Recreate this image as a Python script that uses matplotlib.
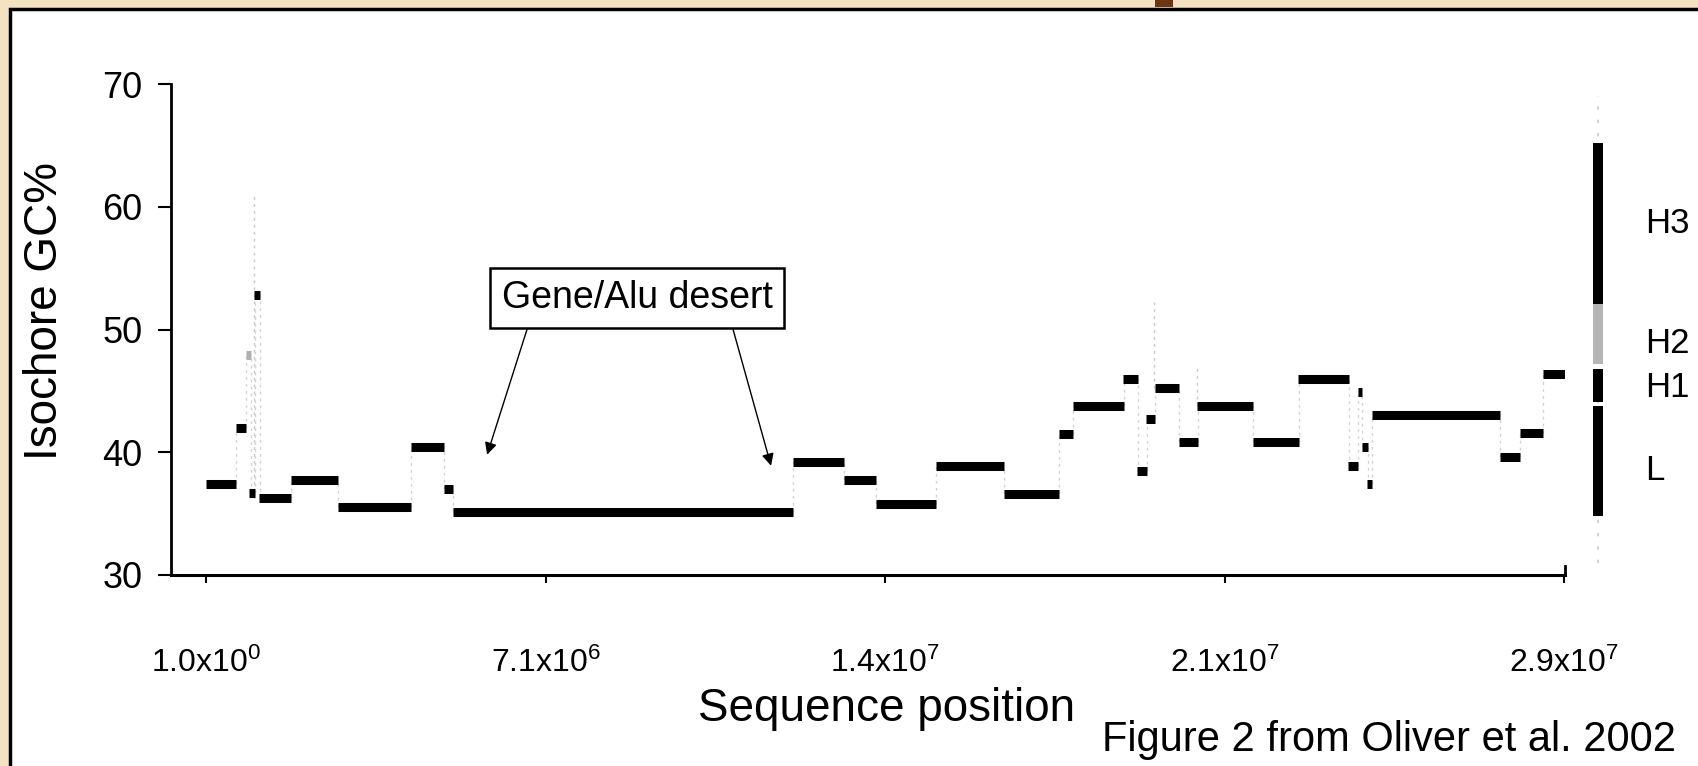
import matplotlib
matplotlib.use("Agg")
import matplotlib.pyplot as plt
import matplotlib.patches as patches

plt.rcParams['font.family'] = ['Liberation Sans', 'DejaVu Sans']
plt.rcParams['mathtext.fontset'] = 'custom'
plt.rcParams['mathtext.rm'] = 'Liberation Sans'

# isochore segments (positions in Mb, GC in %)
seg_start = [0.0, 0.63, 0.84, 0.91, 1.01, 1.12, 1.80, 2.77, 4.32, 5.01,
             5.21, 12.36, 13.44, 14.11, 15.37, 16.81, 17.96, 18.26, 19.31, 19.61,
             19.80, 19.99, 20.49, 20.87, 22.05, 23.00, 24.05, 24.26, 24.35, 24.45,
             24.56, 27.25, 27.67, 28.16]
seg_end = [0.63, 0.84, 0.95, 1.03, 1.14, 1.80, 2.77, 4.32, 5.01, 5.21,
           12.36, 13.44, 14.11, 15.37, 16.81, 17.96, 18.26, 19.33, 19.63, 19.82,
           19.99, 20.49, 20.89, 22.05, 23.02, 24.07, 24.26, 24.35, 24.47, 24.56,
           27.25, 27.67, 28.16, 28.64]
seg_gc = [37.4, 42.0, 47.9, 36.7, 52.8, 36.3, 37.7, 35.5, 40.4, 37.0,
          35.1, 39.2, 37.7, 35.8, 38.9, 36.6, 41.5, 43.8, 46.0, 38.5,
          42.7, 45.2, 40.8, 43.8, 40.8, 46.0, 38.9, 44.9, 40.4, 37.4,
          43.0, 39.6, 41.6, 46.4]
grey_segs = [2]

# faint dotted spikes
spike_x = [1.01, 19.97, 20.87]
spike_lo = [36.3, 45.2, 43.8]
spike_hi = [61.0, 52.2, 47.0]

# isochore classes drawn at the right
class_names = ['L', 'H1', 'H2', 'H3']
class_lo = [34.8, 44.1, 47.2, 52.1]
class_hi = [43.8, 46.8, 52.1, 65.2]
class_colors = ['black', 'black', '#b5b5b5', 'black']
class_label_gc = [38.5, 45.3, 48.9, 58.6]

tick_pos = [1, 7.15e6, 1.43e7, 2.145e7, 2.86e7]
tick_labels = ['1.0x10$\\mathregular{^0}$', '7.1x10$\\mathregular{^6}$',
               '1.4x10$\\mathregular{^7}$', '2.1x10$\\mathregular{^7}$',
               '2.9x10$\\mathregular{^7}$']

fig = plt.figure(figsize=(16.98, 7.66), dpi=100)
fig.patch.set_facecolor('#f3e3c2')

# white panel with black frame (only top/left edges visible)
panel = patches.Rectangle((10 / 1698, -0.1), 1.2, 1.1 - 9 / 766,
                          transform=fig.transFigure, fc='white', ec='black',
                          lw=2.5, zorder=-2)
fig.patches.append(panel)
fig.patches.append(patches.Rectangle((1155 / 1698, 1 - 7 / 766), 18 / 1698, 7 / 766,
                                     transform=fig.transFigure, fc='#6e3512',
                                     ec='none', zorder=-1))

ax = fig.add_axes([171 / 1698, 1 - 575 / 766, (1565 - 171) / 1698, (575 - 84) / 766])
ax.patch.set_visible(False)

mb = 1e6
xmin, xmax = -0.737 * mb, 28.62 * mb
ax.set_xlim(xmin, xmax)
ax.set_ylim(30, 70)

# dotted connectors between steps
for i in range(len(seg_gc) - 1):
    xc = seg_end[i] * mb
    ax.vlines(xc, min(seg_gc[i], seg_gc[i + 1]), max(seg_gc[i], seg_gc[i + 1]),
              colors='#d2d2d2', linestyles=(0, (2, 3)), lw=1, zorder=1)
for x, lo, hi in zip(spike_x, spike_lo, spike_hi):
    ax.vlines(x * mb, lo, hi, colors='#c8c8c8', linestyles=(0, (2, 3)), lw=1, zorder=1)

# the isochore bars
for i in range(len(seg_gc)):
    col = '#b0b0b0' if i in grey_segs else 'black'
    lc = ax.hlines(seg_gc[i], seg_start[i] * mb, seg_end[i] * mb, colors=col, lw=6.5, zorder=3)
    lc.set_capstyle('butt')

# class bar on the right
cx = 29.32 * mb
ax.vlines(cx, 31, 69, colors='#c8c8c8', linestyles=(0, (2, 6)), lw=1.2, clip_on=False)
for lo, hi, c in zip(class_lo, class_hi, class_colors):
    lc = ax.vlines(cx, lo, hi, colors=c, lw=7.2, clip_on=False, zorder=3)
    lc.set_capstyle('butt')
for name, g in zip(class_names, class_label_gc):
    ax.text(30.3 * mb, g, name, fontsize=25, ha='left', va='center', clip_on=False)

# annotation box and arrows
ax.add_patch(patches.Rectangle((5.98 * mb, 50.1), 6.19 * mb, 4.9, fc='white',
                               ec='black', lw=1.8, zorder=4))
ax.text(9.08 * mb, 52.55, 'Gene/Alu desert', fontsize=27, ha='center', va='center', zorder=5)
for x0, x1, y1 in [(6.76, 5.92, 39.8), (11.10, 11.90, 38.9)]:
    ax.annotate('', xy=(x1 * mb, y1), xytext=(x0 * mb, 50.0),
                arrowprops=dict(arrowstyle='-|>', color='black', lw=1.0,
                                mutation_scale=18, shrinkA=0, shrinkB=0))

# axes styling
for s in ['top', 'right']:
    ax.spines[s].set_visible(False)
ax.spines['left'].set_linewidth(2)
ax.spines['bottom'].set_linewidth(2.2)
ax.plot([xmax, xmax], [30, 30.7], color='black', lw=2, clip_on=False)

ax.set_yticks([30, 40, 50, 60, 70])
ax.set_xticks(tick_pos)
ax.set_xticklabels(tick_labels)
ax.tick_params(axis='y', direction='out', length=9.5, width=1.5, pad=11, labelsize=26)
ax.tick_params(axis='x', direction='out', length=6, width=1.5, pad=46, labelsize=23)

ax.set_ylabel('Isochore GC%', fontsize=33)
ax.yaxis.set_label_coords(-0.0746, 0.537)
ax.set_xlabel('Sequence position', fontsize=33)
ax.xaxis.set_label_coords(0.513, -0.228)

fig.text(1676 / 1698, 1 - 740 / 766, 'Figure 2 from Oliver et al. 2002',
         fontsize=30, ha='right', va='center')

fig.savefig('out.png', dpi=100)
